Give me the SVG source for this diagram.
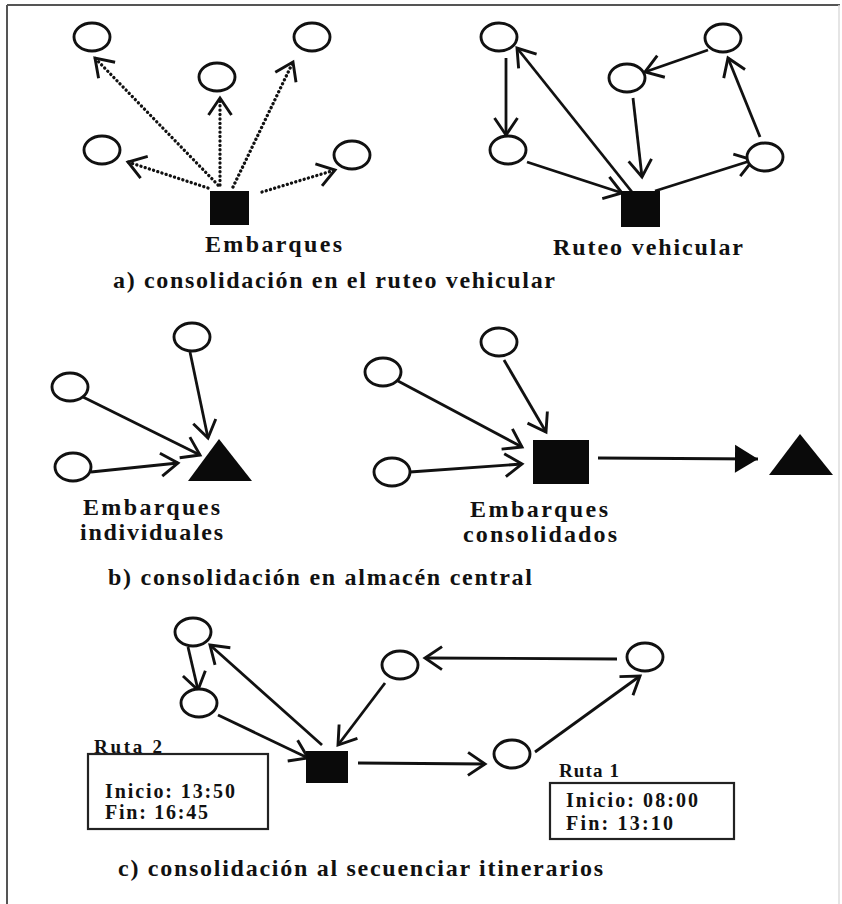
<svg xmlns="http://www.w3.org/2000/svg" width="842" height="904" viewBox="0 0 842 904">
  <style>
    .nd { fill: #fff; stroke: #111; stroke-width: 2.9; }
    .blk { fill: #0a0a0a; stroke: none; }
    .ln { fill: none; stroke: #111; stroke-width: 2.8; marker-end: url(#open); }
    .dot { fill: none; stroke: #111; stroke-width: 3.3; stroke-linecap: round; stroke-dasharray: 0.1 4.3; marker-end: url(#open); }
    .big { fill: none; stroke: #111; stroke-width: 3; marker-end: url(#solid); }
    .box { fill: #fff; stroke: #222; stroke-width: 2.2; }
    .t { font-family: "Liberation Serif", "Times New Roman", serif; font-weight: bold; fill: #111; }
    .sub { font-size: 24px; }
    .lg { font-size: 24px; }
    .md { font-size: 20px; }
    .sm { font-size: 19px; }
  </style>
  <defs>
    <marker id="open" markerUnits="userSpaceOnUse" markerWidth="30" markerHeight="30" viewBox="-22 -15 30 30" refX="0" refY="0" orient="auto">
      <path d="M-17,-11.5 L0,0 L-17,11.5" fill="none" stroke="#111" stroke-width="2.9" stroke-linejoin="miter"/>
    </marker>
    <marker id="solid" markerUnits="userSpaceOnUse" markerWidth="30" markerHeight="32" viewBox="-26 -16 30 32" refX="0" refY="0" orient="auto">
      <path d="M-23,-14 L0,0 L-23,14 Z" fill="#0a0a0a"/>
    </marker>
  </defs>

  <rect width="842" height="904" fill="#fff"/>

  <!-- page frame -->
  <g id="frame" fill="none">
    <line x1="7" y1="5" x2="840" y2="5" stroke="#555" stroke-width="2"/>
    <line x1="7" y1="5" x2="7" y2="904" stroke="#555" stroke-width="2"/>
    <line x1="839" y1="5" x2="839" y2="904" stroke="#ddd" stroke-width="1.5"/>
  </g>

  <!-- connectors -->
  <g id="connectors">
    <!-- a) shipments, dotted -->
    <line class="dot" x1="218" y1="185" x2="95" y2="58"/>
    <line class="dot" x1="220" y1="185" x2="220" y2="98"/>
    <line class="dot" x1="233" y1="187" x2="293" y2="62"/>
    <line class="dot" x1="208" y1="188" x2="128" y2="162"/>
    <line class="dot" x1="262" y1="192" x2="335" y2="170"/>
    <!-- a) vehicle routing -->
    <line class="ln" x1="506" y1="58" x2="506" y2="135"/>
    <line class="ln" x1="527" y1="162" x2="622" y2="193"/>
    <line class="ln" x1="632" y1="192" x2="517" y2="48"/>
    <line class="ln" x1="633" y1="98" x2="642" y2="177"/>
    <line class="ln" x1="655" y1="191" x2="753" y2="160"/>
    <line class="ln" x1="760" y1="137" x2="728" y2="58"/>
    <line class="ln" x1="708" y1="50" x2="645" y2="72"/>
    <!-- b) individual shipments -->
    <line class="ln" x1="190" y1="352" x2="208" y2="438"/>
    <line class="ln" x1="83" y1="397" x2="200" y2="455"/>
    <line class="ln" x1="91" y1="472" x2="178" y2="463"/>
    <!-- b) consolidated shipments -->
    <line class="ln" x1="398" y1="381" x2="522" y2="447"/>
    <line class="ln" x1="410" y1="472" x2="522" y2="464"/>
    <line class="ln" x1="504" y1="360" x2="546" y2="432"/>
    <line class="big" x1="598" y1="458" x2="758" y2="459"/>
    <!-- c) itineraries -->
    <line class="ln" x1="322" y1="745" x2="210" y2="645"/>
    <line class="ln" x1="188" y1="647" x2="198" y2="690"/>
    <line class="ln" x1="218" y1="715" x2="308" y2="758"/>
    <line class="ln" x1="385" y1="683" x2="338" y2="745"/>
    <line class="ln" x1="358" y1="763" x2="485" y2="764"/>
    <line class="ln" x1="535" y1="752" x2="640" y2="676"/>
    <line class="ln" x1="617" y1="659" x2="425" y2="658"/>
  </g>

  <!-- a) shipments -->
  <g id="a1-depot"><rect class="blk" x="210" y="191" width="39" height="34"/></g>
  <g id="a1-n1"><ellipse class="nd" cx="92" cy="37" rx="18" ry="14"/></g>
  <g id="a1-n2"><ellipse class="nd" cx="217" cy="77" rx="18" ry="14"/></g>
  <g id="a1-n3"><ellipse class="nd" cx="312" cy="37" rx="18" ry="14"/></g>
  <g id="a1-n4"><ellipse class="nd" cx="102" cy="150" rx="18" ry="14"/></g>
  <g id="a1-n5"><ellipse class="nd" cx="352" cy="155" rx="18" ry="14"/></g>

  <!-- a) vehicle routing -->
  <g id="a2-depot"><rect class="blk" x="621" y="191" width="39" height="36"/></g>
  <g id="a2-n1"><ellipse class="nd" cx="499" cy="37" rx="18" ry="14"/></g>
  <g id="a2-n2"><ellipse class="nd" cx="508" cy="150" rx="18" ry="14"/></g>
  <g id="a2-n3"><ellipse class="nd" cx="627" cy="78" rx="18" ry="14"/></g>
  <g id="a2-n4"><ellipse class="nd" cx="723" cy="38" rx="18" ry="14"/></g>
  <g id="a2-n5"><ellipse class="nd" cx="765" cy="157" rx="18" ry="14"/></g>

  <!-- b) individual shipments -->
  <g id="b1-dest"><polygon class="blk" points="219,439 188,481 252,481"/></g>
  <g id="b1-n1"><ellipse class="nd" cx="192" cy="337" rx="18" ry="14"/></g>
  <g id="b1-n2"><ellipse class="nd" cx="70" cy="387" rx="18" ry="14"/></g>
  <g id="b1-n3"><ellipse class="nd" cx="73" cy="467" rx="18" ry="14"/></g>

  <!-- b) consolidated shipments -->
  <g id="b2-hub"><rect class="blk" x="533" y="440" width="56" height="44"/></g>
  <g id="b2-dest"><polygon class="blk" points="800,434 769,475 833,475"/></g>
  <g id="b2-n1"><ellipse class="nd" cx="383" cy="372" rx="18" ry="14"/></g>
  <g id="b2-n2"><ellipse class="nd" cx="392" cy="472" rx="18" ry="14"/></g>
  <g id="b2-n3"><ellipse class="nd" cx="499" cy="342" rx="18" ry="14"/></g>

  <!-- c) itineraries -->
  <g id="c-depot"><rect class="blk" x="306" y="751" width="42" height="32"/></g>
  <g id="c-n1"><ellipse class="nd" cx="193" cy="632" rx="18" ry="14"/></g>
  <g id="c-n2"><ellipse class="nd" cx="199" cy="703" rx="18" ry="14"/></g>
  <g id="c-n3"><ellipse class="nd" cx="400" cy="665" rx="18" ry="14"/></g>
  <g id="c-n4"><ellipse class="nd" cx="512" cy="754" rx="18" ry="14"/></g>
  <g id="c-n5"><ellipse class="nd" cx="645" cy="657" rx="18" ry="14"/></g>

  <!-- route boxes -->
  <g id="ruta2">
    <rect class="box" x="88" y="754" width="180" height="75"/>
    <text class="t sm" x="94" y="753" textLength="68" lengthAdjust="spacing">Ruta 2</text>
    <text class="t md" x="105" y="798" textLength="130" lengthAdjust="spacing">Inicio: 13:50</text>
    <text class="t md" x="105" y="819" textLength="103" lengthAdjust="spacing">Fin: 16:45</text>
  </g>
  <g id="ruta1">
    <rect class="box" x="550" y="783" width="184" height="56"/>
    <text class="t sm" x="559" y="777" textLength="60" lengthAdjust="spacing">Ruta 1</text>
    <text class="t md" x="566" y="807" textLength="132" lengthAdjust="spacing">Inicio: 08:00</text>
    <text class="t md" x="566" y="830" textLength="107" lengthAdjust="spacing">Fin: 13:10</text>
  </g>

  <!-- labels -->
  <g id="labels">
    <text class="t lg" x="205" y="252" textLength="137" lengthAdjust="spacing">Embarques</text>
    <text class="t lg" x="553" y="255" textLength="190" lengthAdjust="spacing">Ruteo vehicular</text>
    <text class="t sub" x="113" y="288" textLength="442" lengthAdjust="spacing">a) consolidación en el ruteo vehicular</text>
    <text class="t lg" x="83" y="515" textLength="137" lengthAdjust="spacing">Embarques</text>
    <text class="t lg" x="80" y="540" textLength="143" lengthAdjust="spacing">individuales</text>
    <text class="t lg" x="470" y="517" textLength="138" lengthAdjust="spacing">Embarques</text>
    <text class="t lg" x="463" y="542" textLength="154" lengthAdjust="spacing">consolidados</text>
    <text class="t sub" x="108" y="585" textLength="424" lengthAdjust="spacing">b) consolidación en almacén central</text>
    <text class="t sub" x="118" y="876" textLength="485" lengthAdjust="spacing">c) consolidación al secuenciar itinerarios</text>
  </g>
</svg>
